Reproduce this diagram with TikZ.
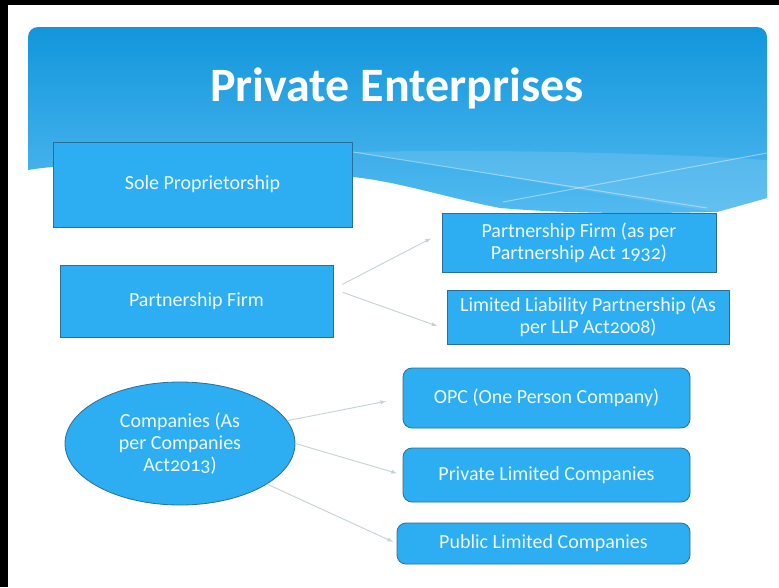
\documentclass[tikz,border=0pt]{standalone}
\usepackage{fontspec}
\setmainfont{Carlito}
\newfontfamily\boxfont[Numbers=OldStyle]{Carlito}
\usetikzlibrary{shapes.geometric,arrows}

\definecolor{boxblue}{HTML}{2DAEF2}
\definecolor{boxline}{HTML}{2B6E96}
\definecolor{bannertop}{HTML}{1296DC}
\definecolor{bannerbot}{HTML}{52BAF0}
\definecolor{wavelight}{HTML}{8ED0F4}
\definecolor{arrowgray}{HTML}{C5D2D8}
\definecolor{textwhite}{HTML}{EEF8FE}

\tikzset{
	entbox/.style={draw=boxline, line width=0.8pt, fill=boxblue, text=textwhite,
		font=\boxfont\fontsize{20}{22}\selectfont, align=center, inner sep=2pt}, % The plain boxes
	entround/.style={entbox, rounded corners=9pt}, % Company boxes
	entlink/.style={-latex, draw=arrowgray, line width=0.9pt}, % Thin grey arrows
}

\begin{document}
\begin{tikzpicture}[x=1pt,y=-1pt]
			\useasboundingbox (0,0) rectangle (779,587);
			% Slide and frame
			\fill [white] (0,0) rectangle (779,587);
			\fill [black] (0,0) rectangle (8,587);
			\fill [black] (0,0) rectangle (779,5);
			% Banner
			\shade [top color=bannertop, bottom color=bannerbot]
			(28,170) [rounded corners=10pt] -- (28,27) -- (767,27) [sharp corners] -- (767,198)
			-- (717,212) .. controls (620,214) and (560,213) .. (500,208)
			.. controls (440,196) and (400,182) .. (353,177)
			.. controls (250,168) and (100,158) .. (28,170) -- cycle;
			\fill [wavelight, opacity=0.3] (353,152) .. controls (480,170) and (600,195) .. (717,212)
			-- (767,198) -- (767,160) .. controls (600,150) and (450,150) .. (353,152) -- cycle;
			\draw [white, opacity=0.4, line width=1pt] (353,152) -- (707,208);
			\draw [white, opacity=0.4, line width=1pt] (503,202) -- (767,153);
			\node (title) [text=white, font=\bfseries\fontsize{48}{50}\selectfont] at (397,88) {Private Enterprises};
			% Boxes
			\node (sole) [entbox, minimum width=299pt, minimum height=85pt] at (202.5,184.5) {Sole Proprietorship};
			\node (partner) [entbox, minimum width=273pt, minimum height=72pt] at (196.5,301) {Partnership Firm};
			\node (pfirm) [entbox, minimum width=274pt, minimum height=59pt] at (579,242.5) {Partnership Firm (as per\\ Partnership Act 1932)};
			\node (llp) [entbox, minimum width=282pt, minimum height=54pt] at (588,317) {Limited Liability Partnership (As\\ per LLP Act2008)};
			\node (company) [entbox, ellipse, inner sep=0pt, minimum width=230pt, minimum height=123pt] at (180,443.5) {Companies (As\\ per Companies\\ Act2013)};
			\node (opc) [entround, minimum width=287pt, minimum height=60pt] at (546.5,398) {OPC (One Person Company)};
			\node (pvtltd) [entround, minimum width=287pt, minimum height=54pt] at (546.5,475) {Private Limited Companies};
			\node (publtd) [entround, minimum width=293pt, minimum height=41pt] at (543.5,543.5) {Public Limited Companies};
			% Arrows
			\draw [entlink, shorten <=10pt, shorten >=12pt] (partner.5) -- (pfirm.176);
			\draw [entlink, shorten <=10pt, shorten >=10pt] (partner.5) -- (llp.185);
			\draw [entlink, shorten >=17pt] (company.12) -- (opc.west);
			\draw [entlink, shorten >=6pt] (company.east) -- (pvtltd.west);
			\draw [entlink, shorten >=4pt] (company.-25) -- (publtd.west);
		\end{tikzpicture}
\end{document}
